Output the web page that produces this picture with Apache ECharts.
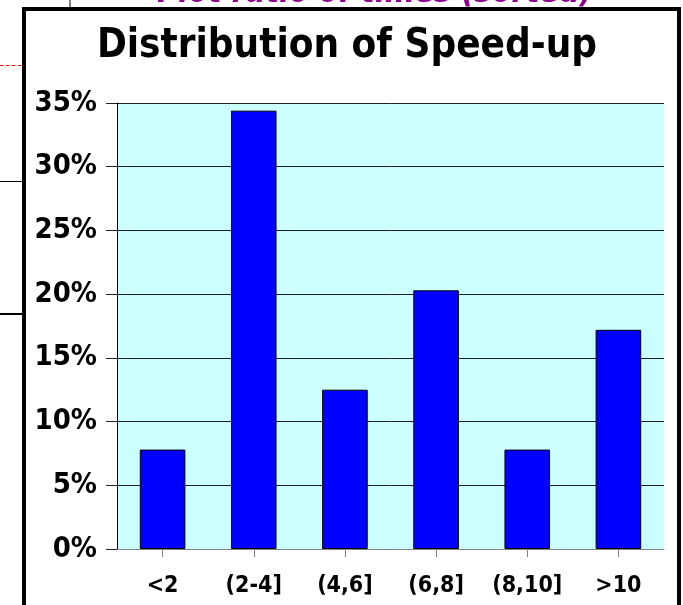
<!DOCTYPE html>
<html>
<head>
<meta charset="utf-8">
<title>Distribution of Speed-up</title>
<script src="https://cdn.jsdelivr.net/npm/echarts@6/dist/echarts.min.js"></script>
<style>
  html, body { margin: 0; padding: 0; background: #ffffff; }
  #chart { width: 683px; height: 605px; }
</style>
</head>
<body>
<div id="chart"></div>
<script>
// Speed-up buckets and the share of runs falling into each one (percent)
const categories = ['<2', '(2-4]', '(4,6]', '(6,8]', '(8,10]', '>10'];
const shares = [7.8, 34.4, 12.5, 20.3, 7.8, 17.2];

const titleText = 'Distribution of Speed-up';
const backdropText = 'Plot ratio of times (sorted)';

const FONT = '"DejaVu Sans Condensed", "DejaVu Sans", Verdana, sans-serif';

const chart = echarts.init(document.getElementById('chart'), null, { renderer: 'canvas' });

chart.setOption({
  backgroundColor: '#ffffff',
  animation: false,
  title: {
    text: titleText,
    left: 342,
    textAlign: 'center',
    top: 22,
    textStyle: { fontFamily: FONT, fontWeight: 'bold', fontSize: 40, color: '#000000' }
  },
  grid: {
    left: 117, right: 19, top: 103, bottom: 56,
    show: true,
    backgroundColor: '#ccffff',
    borderWidth: 0
  },
  xAxis: {
    type: 'category',
    data: categories,
    axisLine: { show: true, lineStyle: { color: '#808080', width: 1 } },
    axisTick: { show: true, alignWithLabel: true, length: 8, lineStyle: { color: '#808080' } },
    axisLabel: {
      margin: 26,
      fontFamily: FONT, fontWeight: 'bold', fontSize: 23, color: '#000000'
    },
    splitLine: { show: false }
  },
  yAxis: {
    type: 'value',
    min: 0, max: 35, interval: 5,
    axisLine: { show: true, lineStyle: { color: '#000000', width: 1 } },
    axisTick: { show: true, length: 11, lineStyle: { color: '#202020' } },
    axisLabel: {
      formatter: '{value}%',
      margin: 20,
      padding: [6, 0, 0, 0],
      fontFamily: FONT, fontWeight: 'bold', fontSize: 29, color: '#000000'
    },
    splitLine: { show: true, lineStyle: { color: '#202020', width: 1 } }
  },
  series: [{
    type: 'bar',
    data: shares,
    barWidth: '50%',
    itemStyle: { color: '#0000ff', borderColor: '#000000', borderWidth: 1 }
  }],
  graphic: [
    // slide text peeking above the framed panel
    {
      type: 'text', z: -20, x: 375, y: -6,
      style: {
        text: backdropText, fill: '#8e008e',
        font: 'italic bold 32px ' + FONT,
        textAlign: 'center', textVerticalAlign: 'middle'
      }
    },
    { type: 'line', z: -20, shape: { x1: 70, y1: 0, x2: 70, y2: 9 }, style: { stroke: '#000', lineWidth: 1 } },
    { type: 'line', z: -20, shape: { x1: 0, y1: 65.5, x2: 22, y2: 65.5 }, style: { stroke: '#ff0000', lineWidth: 1, lineDash: [3, 3] } },
    { type: 'line', z: -20, shape: { x1: 0, y1: 181.5, x2: 22, y2: 181.5 }, style: { stroke: '#000', lineWidth: 1 } },
    { type: 'line', z: -20, shape: { x1: 0, y1: 314, x2: 22, y2: 314 }, style: { stroke: '#000', lineWidth: 2 } },
    // framed white panel holding the chart
    {
      type: 'rect', z: -10,
      shape: { x: 24, y: 9, width: 655, height: 700 },
      style: { fill: '#ffffff', stroke: '#000000', lineWidth: 4 }
    }
  ]
});
</script>
</body>
</html>
